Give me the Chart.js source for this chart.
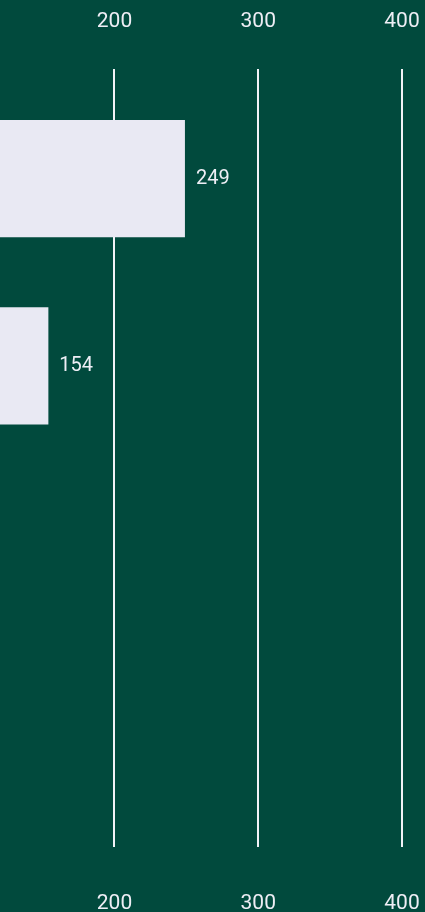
<!DOCTYPE html>
<html>
<head>
<meta charset="utf-8">
<script src="https://cdn.jsdelivr.net/npm/chart.js@4"></script>
<style>
  html, body { margin: 0; padding: 0; background: #014a3d; }
  #wrap { position: relative; width: 425px; height: 912px; }
</style>
</head>
<body>
<div id="wrap"><canvas id="c"></canvas></div>
<script>
// ---- data ----
const categories = ['A', 'B', 'C', 'D'];
const values = [249, 154, 104, 72];
const tickValues = [200, 300, 400];

const AXIS_MIN = 120.35;
const AXIS_MAX = 416;
const TEXT_COLOR = '#eeeef5';
const GRID_COLOR = '#f2f2f7';
const BAR_COLOR = '#e9e9f3';

const valueLabels = {
  id: 'valueLabels',
  afterDatasetsDraw(chart) {
    const { ctx, chartArea } = chart;
    const meta = chart.getDatasetMeta(0);
    const data = chart.data.datasets[0].data;
    ctx.save();
    ctx.font = '20px Roboto';
    ctx.fillStyle = TEXT_COLOR;
    ctx.textAlign = 'left';
    ctx.textBaseline = 'middle';
    meta.data.forEach((bar, i) => {
      const x = bar.x + 11;
      if (x > chartArea.left) ctx.fillText(String(data[i]), x, bar.y);
    });
    ctx.restore();
  }
};

function axisOpts(position, tickLength, padding, height) {
  return {
    type: 'linear',
    position,
    min: AXIS_MIN,
    max: AXIS_MAX,
    afterBuildTicks: s => { s.ticks = tickValues.map(v => ({ value: v })); },
    afterFit: s => { s.height = height; s.paddingLeft = 0; s.paddingRight = 0; },
    grid: { color: GRID_COLOR, lineWidth: 2, drawTicks: true, tickLength, drawOnChartArea: true },
    border: { display: false },
    ticks: { padding, color: TEXT_COLOR, font: { family: 'Roboto', size: 21 }, maxRotation: 0 }
  };
}

new Chart(document.getElementById('c'), {
  type: 'bar',
  data: {
    labels: categories,
    datasets: [{
      data: values,
      backgroundColor: BAR_COLOR,
      borderWidth: 0,
      categoryPercentage: 1,
      barPercentage: 0.625,
      xAxisID: 'x'
    }]
  },
  options: {
    indexAxis: 'y',
    responsive: true,
    maintainAspectRatio: false,
    animation: false,
    layout: { padding: 0 },
    plugins: { legend: { display: false }, tooltip: { enabled: false } },
    scales: {
      y: { display: false, offset: true },
      x: axisOpts('bottom', 13, 44, 78),
      x2: axisOpts('top', 16, 35, 85)
    }
  },
  plugins: [valueLabels]
});
</script>
</body>
</html>
